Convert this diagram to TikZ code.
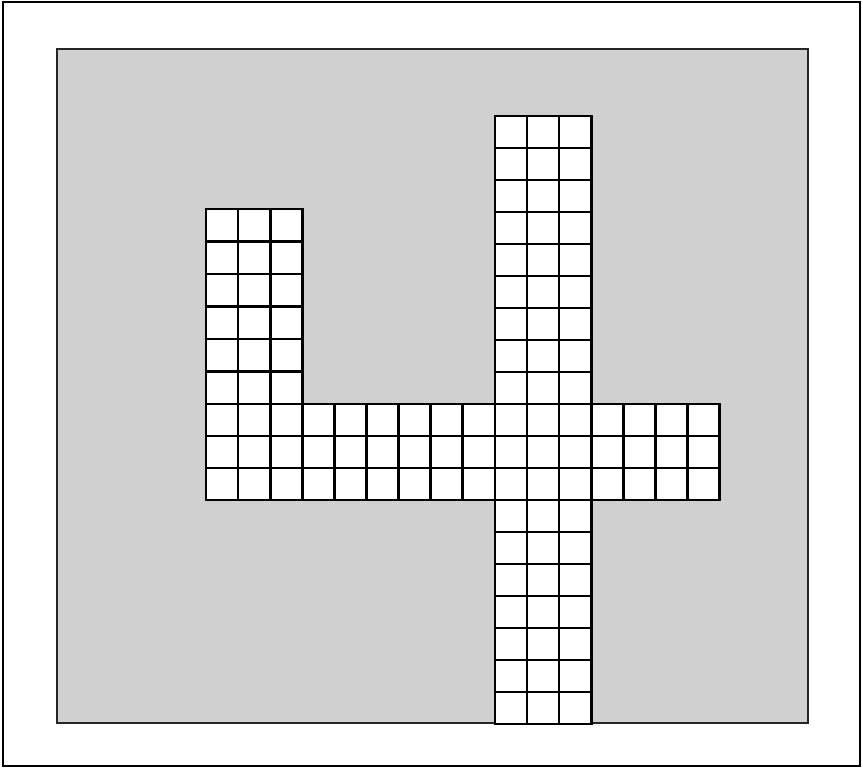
\documentclass[tikz,border=0pt]{standalone}
\begin{document}
\begin{tikzpicture}[x=1pt,y=-1pt,
  framebox/.style={draw=black, line width=1.4pt},
  boardbox/.style={draw=black!85, line width=2pt, fill=gray!37},
  cellbox/.style={draw=black, line width=2.7pt, line join=miter},
  cellfill/.style={fill=white}]
\useasboundingbox (0,0) rectangle (863,769);
\draw[framebox] (3,2) rectangle (860,766);
\draw[boardbox] (57,49) rectangle (808,723);
\def\cw{32.1}
\def\ch{32}
\def\lh{32.5}
% white fills
\fill[cellfill] (206,404-6*\lh) rectangle (206+3*\cw,404);
\fill[cellfill] (206,404) rectangle (206+16*\cw,404+3*\ch);
\fill[cellfill] (206+9*\cw,404-9*\ch-1.5) rectangle (206+12*\cw,404+10*\ch);
% left upright
\foreach \i in {0,...,2}
  \foreach \j in {-6,...,-1}
    \draw[cellbox] (206+\i*\cw,404+\j*\lh) rectangle ++(\cw,\lh);
% horizontal bar
\foreach \i in {0,...,15}
  \foreach \j in {0,...,2}
    \draw[cellbox] (206+\i*\cw,404+\j*\ch) rectangle ++(\cw,\ch);
% vertical bar
\foreach \i in {9,...,11}
  \foreach \j in {-9,...,9}
    \draw[cellbox] (206+\i*\cw,404+\j*\ch) rectangle ++(\cw,\ch);
\end{tikzpicture}
\end{document}
